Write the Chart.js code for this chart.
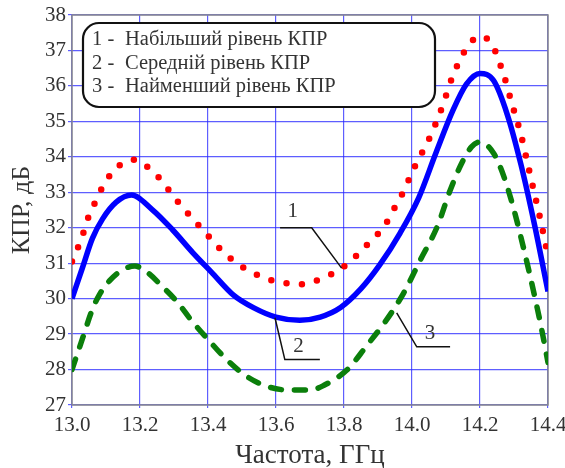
<!DOCTYPE html>
<html>
<head>
<meta charset="utf-8">
<script src="https://cdn.jsdelivr.net/npm/chart.js@4/dist/chart.umd.min.js"></script>
<style>
  html, body { margin: 0; padding: 0; background: #fff; }
  #wrap { width: 565px; height: 468px; position: relative; }
</style>
</head>
<body>
<div id="wrap"><canvas id="chart-kpr"></canvas></div>
<script>
// ── Data ──────────────────────────────────────────────────────────────────────

// 1 - highest level (red dotted)
const freq1 = [13.0, 13.02, 13.035, 13.05, 13.07, 13.09, 13.12, 13.16, 13.185, 13.21, 13.25, 13.285,
  13.32, 13.36, 13.4, 13.44, 13.485, 13.53, 13.575, 13.62, 13.665, 13.705, 13.75, 13.795, 13.835,
  13.88, 13.92, 13.945, 13.97, 14.01, 14.055, 14.09, 14.12, 14.165, 14.2, 14.235, 14.27, 14.295,
  14.32, 14.34, 14.36, 14.38, 14.4];
const kpr1 = [31.05, 31.5, 31.9, 32.35, 32.75, 33.15, 33.58, 33.88, 33.92, 33.8, 33.47, 33.06,
  32.63, 32.2, 31.78, 31.36, 31.0, 30.74, 30.55, 30.45, 30.4, 30.47, 30.63, 30.87, 31.2,
  31.64, 32.06, 32.5, 32.93, 33.76, 34.6, 35.44, 36.28, 37.13, 37.4, 37.17, 36.3, 35.46,
  34.64, 33.81, 32.97, 32.13, 31.2];

// 2 - middle level (blue solid)
const freq2 = [13.0, 13.03, 13.06, 13.09, 13.13, 13.175, 13.235, 13.295, 13.355, 13.41, 13.475,
  13.535, 13.6, 13.67, 13.73, 13.79, 13.85, 13.905, 13.965, 14.02, 14.07, 14.12, 14.16, 14.2,
  14.24, 14.28, 14.32, 14.36, 14.4];
const kpr2 = [30.0, 30.85, 31.7, 32.25, 32.72, 32.92, 32.52, 31.95, 31.3, 30.75, 30.1,
  29.74, 29.48, 29.39, 29.48, 29.75, 30.28, 30.95, 31.85, 32.85, 34.1, 35.3, 36.05, 36.35,
  36.15, 35.2, 33.8, 32.1, 30.2];

// 3 - lowest level (green dashed)
const freq3 = [13.0, 13.03, 13.06, 13.08, 13.11, 13.15, 13.185, 13.22, 13.27, 13.31, 13.35, 13.4,
  13.455, 13.515, 13.575, 13.64, 13.7, 13.74, 13.81, 13.865, 13.925, 13.975, 14.025, 14.075,
  14.11, 14.145, 14.175, 14.2, 14.24, 14.27, 14.3, 14.33, 14.36, 14.38, 14.4];
const kpr3 = [28.0, 28.85, 29.7, 30.1, 30.5, 30.82, 30.92, 30.75, 30.3, 29.9, 29.4, 28.85,
  28.28, 27.8, 27.52, 27.42, 27.42, 27.55, 28.0, 28.65, 29.4, 30.15, 31.1, 32.05,
  33.0, 33.8, 34.28, 34.42, 34.1, 33.45, 32.5, 31.35, 30.1, 29.2, 28.2];

const legendNums = ['1 -', '2 -', '3 -'];
const legendTexts = ['Набільший рівень КПР', 'Середній рівень КПР', 'Найменший рівень КПР'];

// callout leaders, in data units (GHz, dB)
const callouts = [
  { label: '1', at: [13.649, 32.46], path: [[13.612, 32.0], [13.705, 32.0], [13.793, 30.86]] },
  { label: '2', at: [13.666, 28.66], path: [[13.597, 29.46], [13.626, 28.28], [13.729, 28.28]] },
  { label: '3', at: [14.053, 29.03], path: [[13.955, 29.6], [14.014, 28.64], [14.112, 28.64]] },
];

const SERIF = '"Liberation Serif", "DejaVu Serif", serif';
const INK = '#333';

const toXY = (xs, ys) => xs.map((x, i) => ({ x, y: ys[i] }));

// ── Plot frame ────────────────────────────────────────────────────────────────

const framePlugin = {
  id: 'frame',
  beforeDatasetsDraw(chart) {
    const { ctx, chartArea: a } = chart;
    ctx.save();
    ctx.strokeStyle = '#8a8a8a';
    ctx.lineWidth = 1.5;
    ctx.strokeRect(a.left, a.top, a.right - a.left, a.bottom - a.top);
    ctx.restore();
  },
};

// ── Legend box + numbered callouts ────────────────────────────────────────────

const notesPlugin = {
  id: 'notes',
  afterDatasetsDraw(chart) {
    const { ctx, chartArea: a, scales } = chart;
    const sx = scales.x, sy = scales.y;
    ctx.save();

    // callouts
    ctx.strokeStyle = '#111';
    ctx.lineWidth = 1.5;
    ctx.font = `21px ${SERIF}`;
    ctx.fillStyle = INK;
    ctx.textAlign = 'center';
    ctx.textBaseline = 'middle';
    for (const c of callouts) {
      ctx.beginPath();
      c.path.forEach(([x, y], i) => {
        const px = sx.getPixelForValue(x), py = sy.getPixelForValue(y);
        i ? ctx.lineTo(px, py) : ctx.moveTo(px, py);
      });
      ctx.stroke();
      ctx.fillText(c.label, sx.getPixelForValue(c.at[0]), sy.getPixelForValue(c.at[1]));
    }

    // legend box
    const bx = a.left + 11, by = a.top + 8, bw = 352, bh = 84;
    ctx.beginPath();
    ctx.roundRect(bx, by, bw, bh, 16);
    ctx.fillStyle = '#fff';
    ctx.fill();
    ctx.lineWidth = 2.2;
    ctx.strokeStyle = '#111';
    ctx.stroke();

    ctx.font = `20.5px ${SERIF}`;
    ctx.fillStyle = INK;
    ctx.textAlign = 'left';
    legendTexts.forEach((t, i) => {
      const y = by + 17 + i * 23.4;
      ctx.fillText(legendNums[i], bx + 9, y);
      ctx.fillText(t, bx + 42, y);
    });
    ctx.restore();
  },
};

// ── Chart ─────────────────────────────────────────────────────────────────────

const gridColor = 'rgba(40,40,255,0.75)';

new Chart(document.getElementById('chart-kpr'), {
  type: 'line',
  data: {
    datasets: [
      {
        label: '1',
        data: toXY(freq1, kpr1),
        borderColor: '#ff0000',
        borderWidth: 6.5,
        borderDash: [0, 15.5],
        borderCapStyle: 'round',
        pointRadius: 0,
        cubicInterpolationMode: 'monotone',
      },
      {
        label: '2',
        data: toXY(freq2, kpr2),
        borderColor: '#0000ff',
        borderWidth: 5.5,
        pointRadius: 0,
        cubicInterpolationMode: 'monotone',
      },
      {
        label: '3',
        data: toXY(freq3, kpr3),
        borderColor: '#0b7f0b',
        borderWidth: 5.5,
        borderDash: [11, 13],
        borderCapStyle: 'round',
        pointRadius: 0,
        cubicInterpolationMode: 'monotone',
      },
    ],
  },
  options: {
    responsive: true,
    maintainAspectRatio: false,
    animation: false,
    layout: { padding: { top: 15, right: 17, left: 0, bottom: 0 } },
    plugins: {
      legend: { display: false },
      tooltip: { enabled: false },
    },
    scales: {
      x: {
        type: 'linear',
        min: 13,
        max: 14.4,
        afterFit: s => { s.height = 63; s.paddingLeft = 0; s.paddingRight = 0; },
        border: { display: false },
        grid: { color: gridColor, lineWidth: 1.2, tickLength: 3 },
        ticks: {
          stepSize: 0.2,
          padding: 5,
          color: INK,
          font: { size: 21, family: SERIF },
          callback: v => v.toFixed(1),
        },
        title: {
          display: true,
          text: 'Частота, ГГц',
          color: INK,
          font: { size: 27, family: SERIF, lineHeight: 1 },
          padding: { top: 0, bottom: -1 },
        },
      },
      y: {
        min: 27,
        max: 38,
        afterFit: s => { s.width = 72; },
        border: { display: false },
        grid: { color: gridColor, lineWidth: 1.2, tickLength: 4 },
        ticks: {
          stepSize: 1,
          padding: 2,
          color: INK,
          font: { size: 21, family: SERIF },
        },
        title: {
          display: true,
          text: 'КПР, дБ',
          color: INK,
          font: { size: 26, family: SERIF },
          padding: { top: 7, bottom: 0 },
        },
      },
    },
  },
  plugins: [framePlugin, notesPlugin],
});
</script>
</body>
</html>
